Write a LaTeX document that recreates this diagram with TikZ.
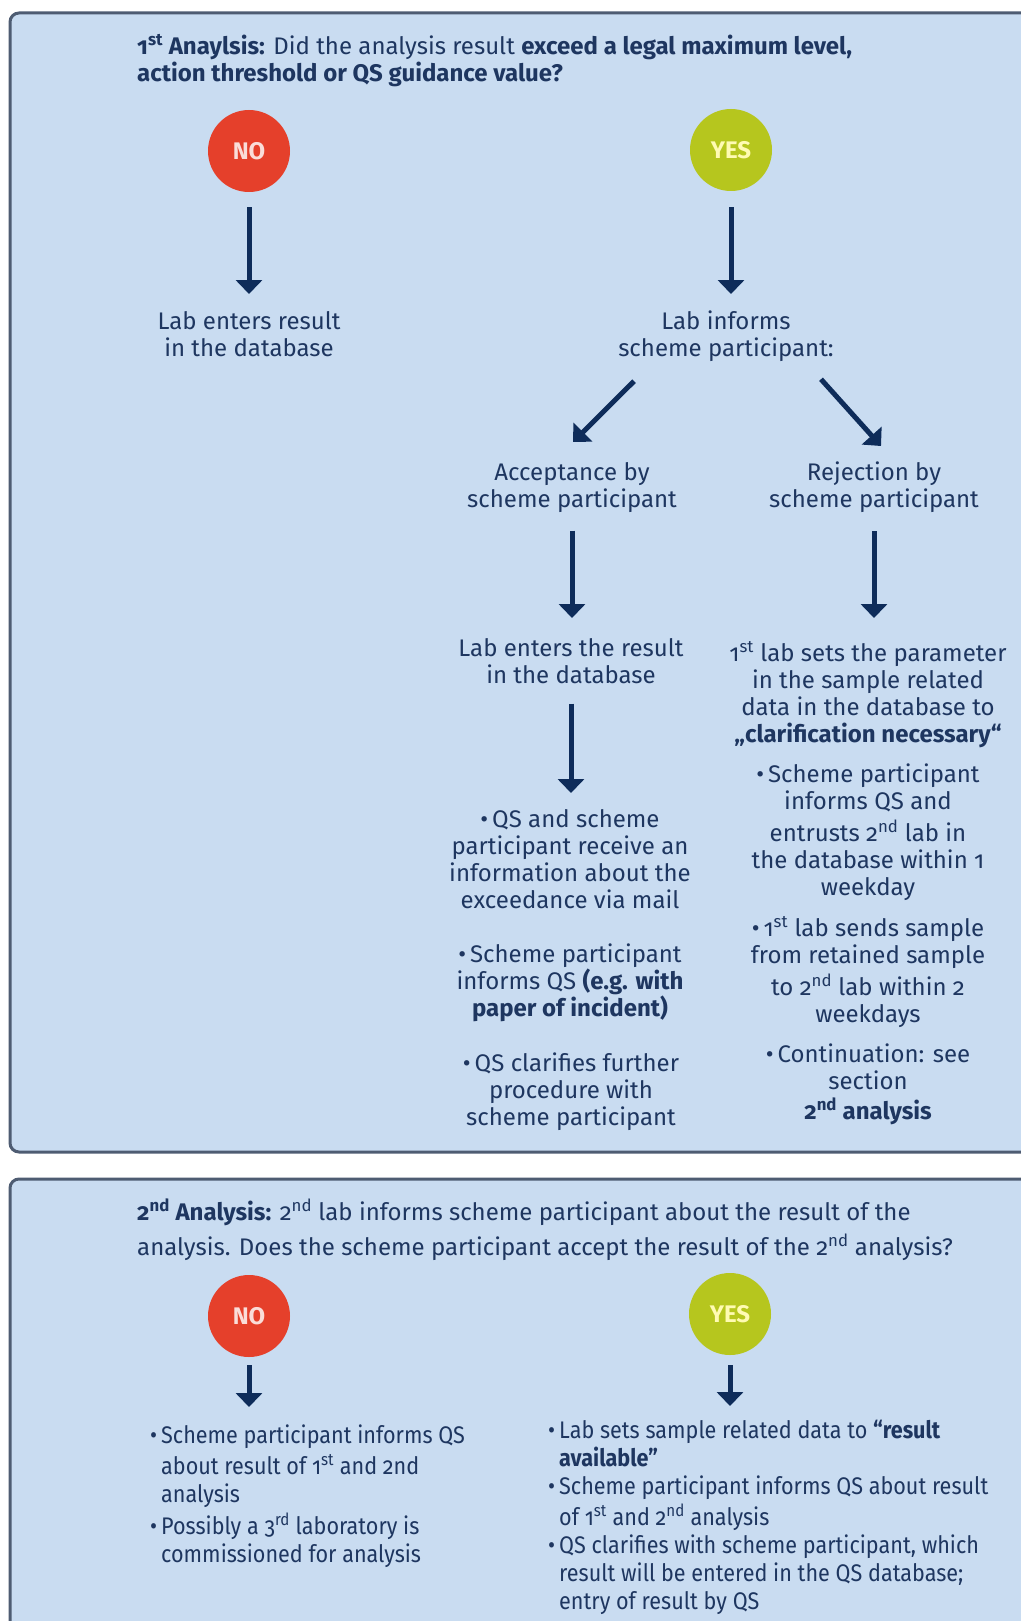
\documentclass[tikz,border=0pt]{standalone}
\usepackage{fontspec}
\setmainfont{Fira Sans}[Numbers=OldStyle]
\newfontfamily\narrowfont{Fira Sans}[FakeStretch=0.9, Numbers=OldStyle]
\usetikzlibrary{arrows.meta}
\definecolor{panelfill}{RGB}{201,220,241}
\definecolor{panelline}{RGB}{78,92,114}
\definecolor{textblue}{RGB}{30,54,96}
\definecolor{arrowblue}{RGB}{14,44,90}
\definecolor{nored}{RGB}{229,64,43}
\definecolor{yesgreen}{RGB}{182,198,30}
\tikzstyle{panel} = [rounded corners=9pt, draw=panelline, line width=3pt, fill=panelfill]
\tikzstyle{answer} = [circle, minimum size=82pt, inner sep=0pt,
    font=\fontsize{24}{27}\selectfont\bfseries]
\tikzstyle{noanswer} = [answer, fill=nored, text=white!82!nored]
\tikzstyle{yesanswer} = [answer, fill=yesgreen, text=white!70!yellow]
\tikzstyle{boxtext} = [align=center, anchor=north, inner sep=0pt, text=textblue,
    font=\fontsize{24}{27}\selectfont, execute at begin node=\strut,
    execute at end node=\strut]
\tikzstyle{listtext} = [boxtext, align=left, anchor=north west]
\tikzstyle{narrowlist} = [listtext, font=\narrowfont\fontsize{24}{28}\selectfont]
\tikzstyle{arrow} = [line width=5pt, draw=arrowblue, ->,
    >={Triangle[length=14pt,width=26pt]}]

\begin{document}
\begin{tikzpicture}[x=1pt, y=-1pt]
            \useasboundingbox (0,0) rectangle (1020,1621);
            \fill[white] (0,0) rectangle (1020,1621);
            % Panels
            \draw[panel] (10,13) rectangle (1045,1152);
            \draw[panel] (10,1179) rectangle (1045,1660);
            % 1st analysis
            \node[listtext] (title1) at (137,34) {\textbf{1\textsuperscript{st} Anaylsis:} Did the
                analysis result \textbf{exceed a legal maximum level,}\\
                \textbf{action threshold or QS guidance value?}};
            \node[noanswer] (no1) at (249,151) {NO};
            \node[yesanswer] (yes1) at (731,150) {YES};
            \node[boxtext] (noresult) at (249,311) {Lab enters result\\in the database};
            \node[boxtext] (informs) at (726,311) {Lab informs\\scheme participant:};
            \node[boxtext] (accept) at (572,462) {Acceptance by\\scheme participant};
            \node[boxtext] (reject) at (874,462) {Rejection by\\scheme participant};
            \node[boxtext] (labenters) at (571,638) {Lab enters the result\\in the database};
            \node[boxtext] (clarif) at (868,641) {1\textsuperscript{st} lab sets the parameter\\
                in the sample related\\data in the database to\\
                \textbf{„clarification necessary“}};
            \node[boxtext] (mailinfo) at (570,809) {•\,QS and scheme\\participant receive an\\
                information about the\\exceedance via mail};
            \node[boxtext] (informqs) at (570,944) {•\,Scheme participant\\
                informs QS \textbf{(e.g. with}\\\textbf{paper of incident)}};
            \node[boxtext] (clarifies) at (571,1053) {•\,QS clarifies further\\
                procedure with\\scheme participant};
            \node[boxtext] (entrusts) at (868,764) {•\,Scheme participant\\informs QS and\\[5pt]
                entrusts 2\textsuperscript{nd} lab in\\the database within 1\\weekday};
            \node[boxtext] (sends) at (868,916) {•\,1\textsuperscript{st} lab sends sample\\
                from retained sample\\[5pt]to 2\textsuperscript{nd} lab within 2\\weekdays};
            \node[boxtext] (continuation) at (868,1044) {•\,Continuation: see\\section\\[3pt]
                \textbf{2\textsuperscript{nd} analysis}};
            % Arrows
            \draw[arrow, shorten <=15pt, shorten >=17pt] (no1) -- (no1 |- noresult.north);
            \draw[arrow, shorten <=16pt, shorten >=17pt] (yes1) -- (yes1 |- informs.north);
            \draw[arrow] ([shift={(-92,16)}]informs.south) -- ([shift={(1,-20)}]accept.north);
            \draw[arrow] ([shift={(95,14)}]informs.south) -- ([shift={(7,-16)}]reject.north);
            \draw[arrow, shorten <=15pt, shorten >=20pt] (accept.south) -- (accept.south |- labenters.north);
            \draw[arrow, shorten <=15pt, shorten >=23pt] (reject.south) -- (reject.south |- clarif.north);
            \draw[arrow, shorten <=12pt, shorten >=16pt] (labenters.south) -- (labenters.south |- mailinfo.north);
            % 2nd analysis
            \node[listtext] (title2) at (137,1199) {\textbf{2\textsuperscript{nd} Analysis:}
                2\textsuperscript{nd} lab informs scheme participant about the result of the\\[8pt]
                analysis. Does the scheme participant accept the result of the
                2\textsuperscript{nd} analysis?};
            \node[noanswer] (no2) at (249,1316) {NO};
            \node[yesanswer] (yes2) at (730,1314) {YES};
            \node[narrowlist] (nolist) at (161,1425) {\llap{•\,}Scheme participant informs QS\\[3pt]
                about result of 1\textsuperscript{st} and 2nd\\analysis\\[4pt]
                \llap{•\,}Possibly a 3\textsuperscript{rd} laboratory is\\commissioned for analysis};
            \node[narrowlist] (yeslist) at (559,1420) {\llap{•\,}Lab sets sample related data to
                \textbf{“result}\\\textbf{available”}\\
                \llap{•\,}Scheme participant informs QS about result\\[3pt]
                of 1\textsuperscript{st} and 2\textsuperscript{nd} analysis\\
                \llap{•\,}QS clarifies with scheme participant, which\\
                result will be entered in the QS database;\\entry of result by QS};
            \draw[arrow, shorten <=8pt, shorten >=18pt] (no2) -- (no2 |- nolist.north);
            \draw[arrow, shorten <=10pt, shorten >=14pt] (yes2) -- (yes2 |- yeslist.north);
        \end{tikzpicture}
\end{document}
